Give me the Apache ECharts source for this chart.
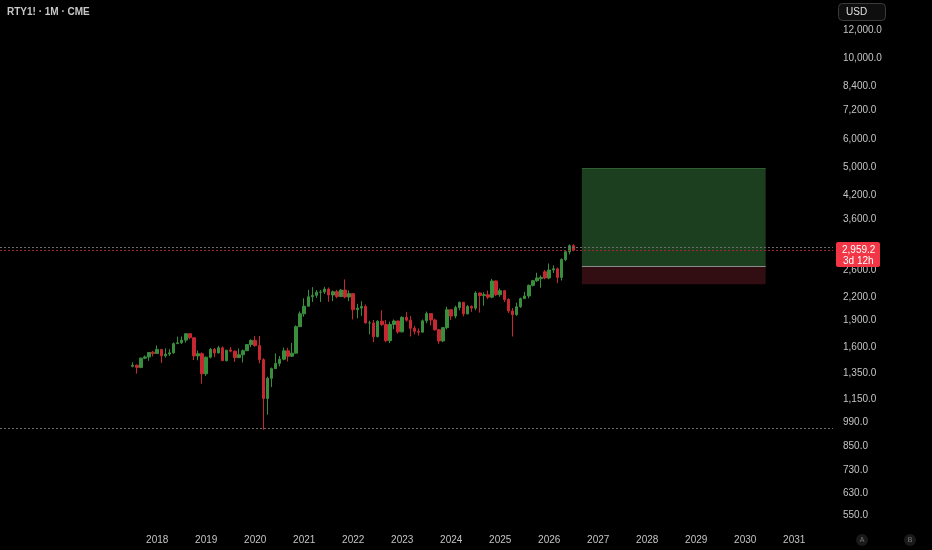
<!DOCTYPE html>
<html><head><meta charset="utf-8">
<script src="https://cdn.jsdelivr.net/npm/echarts@6/dist/echarts.min.js"></script>
<style>html,body{margin:0;padding:0;background:#000;}#c{width:932px;height:550px;}</style>
</head><body><div id="c"></div>
<script>
// ---- axis categories (monthly) ----
const axisFirstYear = 2014, axisFirstMonth = 11, axisMonthCount = 204;
// ---- tick labels ----
const xYearLabels = ['2018','2019','2020','2021','2022','2023','2024','2025','2026','2027','2028','2029','2030','2031'];
const yTicks = [550, 630, 730, 850, 990, 1150, 1350, 1600, 1900, 2200, 2600, 3000, 3600, 4200, 5000, 6000, 7200, 8400, 10000, 12000];
// ---- OHLC: [month, open, high, low, close] ----
const candles2017 = [
 ['2017-07',1415,1452,1405,1425],['2017-08',1425,1430,1350,1405],['2017-09',1405,1495,1398,1490],
 ['2017-10',1490,1515,1480,1502],['2017-11',1502,1548,1465,1544],['2017-12',1548,1560,1506,1535]];
const candles2018 = [
 ['2018-01',1535,1616,1530,1575],['2018-02',1575,1580,1445,1512],['2018-03',1512,1586,1495,1529],
 ['2018-04',1529,1578,1511,1541],['2018-05',1541,1647,1530,1634],['2018-06',1634,1708,1630,1643],
 ['2018-07',1643,1710,1630,1671],['2018-08',1671,1742,1645,1741],['2018-09',1741,1745,1680,1696],
 ['2018-10',1696,1700,1473,1511],['2018-11',1511,1563,1470,1533],['2018-12',1533,1545,1267,1349]];
const candles2019 = [
 ['2019-01',1349,1505,1330,1499],['2019-02',1499,1590,1488,1576],['2019-03',1576,1590,1500,1540],
 ['2019-04',1540,1610,1536,1591],['2019-05',1591,1605,1464,1466],['2019-06',1466,1570,1460,1567],
 ['2019-07',1570,1600,1545,1558],['2019-08',1558,1565,1455,1495],['2019-09',1495,1585,1490,1523],
 ['2019-10',1523,1575,1450,1562],['2019-11',1562,1625,1560,1624],['2019-12',1624,1680,1598,1668]];
const candles2020 = [
 ['2020-01',1668,1715,1601,1614],['2020-02',1614,1716,1441,1476],['2020-03',1476,1490,945,1153],
 ['2020-04',1153,1325,1040,1311],['2020-05',1311,1404,1240,1394],['2020-06',1394,1536,1391,1441],
 ['2020-07',1441,1510,1415,1480],['2020-08',1480,1594,1470,1561],['2020-09',1561,1591,1459,1508],
 ['2020-10',1508,1642,1501,1538],['2020-11',1538,1835,1536,1820],['2020-12',1820,2005,1816,1975]];
const candles2021 = [
 ['2021-01',1975,2180,1940,2073],['2021-02',2073,2300,2070,2201],['2021-03',2201,2340,2130,2221],
 ['2021-04',2221,2296,2185,2266],['2021-05',2266,2300,2130,2269],['2021-06',2269,2345,2240,2311],
 ['2021-07',2311,2336,2131,2226],['2021-08',2226,2290,2140,2273],['2021-09',2273,2300,2180,2204],
 ['2021-10',2204,2310,2200,2297],['2021-11',2297,2459,2180,2198],['2021-12',2198,2290,2140,2245]];
const candles2022 = [
 ['2022-01',2245,2250,1906,2028],['2022-02',2028,2105,1920,2048],['2022-03',2048,2140,1950,2070],
 ['2022-04',2070,2095,1858,1864],['2022-05',1864,1890,1734,1864],['2022-06',1864,1900,1650,1708],
 ['2022-07',1708,1895,1700,1885],['2022-08',1885,2021,1830,1844],['2022-09',1844,1900,1650,1665],
 ['2022-10',1665,1880,1640,1846],['2022-11',1846,1905,1790,1887],['2022-12',1887,1890,1740,1761]];
const candles2023 = [
 ['2023-01',1761,1945,1755,1931],['2023-02',1931,2000,1880,1897],['2023-03',1897,1950,1710,1802],
 ['2023-04',1802,1830,1733,1768],['2023-05',1768,1800,1720,1758],['2023-06',1758,1905,1755,1889],
 ['2023-07',1889,2003,1860,1978],['2023-08',1978,1980,1835,1899],['2023-09',1899,1915,1775,1785],
 ['2023-10',1785,1795,1633,1662],['2023-11',1662,1815,1650,1809],['2023-12',1809,2067,1790,2027]];
const candles2024 = [
 ['2024-01',2027,2030,1900,1947],['2024-02',1947,2080,1920,2055],['2024-03',2055,2135,2020,2125],
 ['2024-04',2125,2130,1943,1974],['2024-05',1974,2090,1970,2070],['2024-06',2070,2085,2000,2048],
 ['2024-07',2048,2280,2020,2255],['2024-08',2255,2260,1990,2218],['2024-09',2218,2265,2080,2230],
 ['2024-10',2230,2290,2170,2196],['2024-11',2196,2466,2180,2434],['2024-12',2434,2440,2210,2230]];
const candles2025 = [
 ['2025-01',2230,2320,2200,2288],['2025-02',2288,2300,2130,2163],['2025-03',2163,2180,1985,2011],
 ['2025-04',2011,2050,1710,1964],['2025-05',1964,2120,1950,2066],['2025-06',2066,2190,2050,2175],
 ['2025-07',2175,2270,2170,2212],['2025-08',2212,2380,2180,2367],['2025-09',2367,2450,2350,2437],
 ['2025-10',2437,2565,2420,2480],['2025-11',2470,2520,2330,2490],['2025-12',2580,2610,2460,2480]];
const candles2026 = [
 ['2026-01',2480,2720,2460,2610],['2026-02',2610,2690,2560,2630],['2026-03',2630,2650,2400,2490],
 ['2026-04',2490,2810,2440,2790],['2026-05',2790,2960,2760,2930],['2026-06',2930,3070,2880,3046],
 ['2026-07',3046,3075,2940,2959.2]];
// ---- price levels ----
const lastPrice = 2959.2;
const prevClose = 3046;
const crashLow = 945;
// ---- long position tool ----
const positionFrom = '2026-09', positionTo = '2030-06';
const positionTarget = 4975, positionEntry = 2670, positionStop = 2385;

const L = v => Math.log10(v);
const months = [];
for (let i = 0; i < axisMonthCount; i++) {
  const k = axisFirstMonth - 1 + i;
  months.push((axisFirstYear + Math.floor(k / 12)) + '-' + String(k % 12 + 1).padStart(2, '0'));
}
const allCandles = [].concat(candles2017, candles2018, candles2019, candles2020, candles2021,
  candles2022, candles2023, candles2024, candles2025, candles2026);
const seriesData = allCandles.map(r => [r[0], L(r[1]), L(r[4]), L(r[3]), L(r[2])]);

function fmt(v) {
  const n = Math.round(Math.pow(10, v));
  return String(n).replace(/\B(?=(\d{3})+(?!\d))/g, ',') + '.0';
}
const FONT = '"Liberation Sans", Arial, sans-serif';
const txt = '#c4c4c4';
const up = '#388e3c', down = '#c62832';

const chart = echarts.init(document.getElementById('c'), null, {renderer: 'canvas'});
chart.setOption({
  backgroundColor: '#000000',
  animation: false,
  grid: {left: 0, right: 99, top: 0, bottom: 22},
  xAxis: {
    type: 'category', data: months, boundaryGap: true,
    axisLine: {show: false}, axisTick: {show: false}, splitLine: {show: false},
    axisLabel: {
      interval: (idx, val) => val.slice(5) === '01' && xYearLabels.indexOf(val.slice(0, 4)) >= 0,
      formatter: val => val.slice(0, 4),
      color: txt, fontSize: 10, fontFamily: FONT, margin: 7
    }
  },
  yAxis: {
    type: 'value', position: 'right', min: 2.70425, max: 4.16201,
    axisLine: {show: false}, axisTick: {show: false}, splitLine: {show: false},
    axisLabel: {
      customValues: yTicks.map(L), formatter: v => fmt(v),
      color: txt, fontSize: 10, fontFamily: FONT, margin: 10
    }
  },
  series: [{
    type: 'candlestick',
    data: seriesData,
    encode: {x: 0, y: [1, 2, 3, 4]},
    barWidth: 3,
    itemStyle: {color: up, color0: down, borderColor: up, borderColor0: down, borderWidth: 1},
    markArea: {
      silent: true,
      data: [
        [{coord: [positionFrom, L(positionTarget)], itemStyle: {color: '#1c3f1f'}}, {coord: [positionTo, L(positionEntry)]}],
        [{coord: [positionFrom, L(positionEntry)], itemStyle: {color: '#320e12'}}, {coord: [positionTo, L(positionStop)]}]
      ]
    },
    markLine: {
      silent: true, symbol: ['none', 'none'], label: {show: false},
      data: [
        {yAxis: L(crashLow), lineStyle: {color: '#6e6e6e', type: [2, 2], width: 1}},
        {yAxis: L(prevClose), lineStyle: {color: '#6e6e6e', type: [2, 2], width: 1}},
        {yAxis: L(lastPrice), lineStyle: {color: '#a3232f', type: [2, 2], width: 1}},
        [{coord: [positionFrom, L(positionTarget)], lineStyle: {color: '#2f5f33', type: 'solid', width: 1}}, {coord: [positionTo, L(positionTarget)]}],
        [{coord: [positionFrom, L(positionEntry)], lineStyle: {color: '#8c8c8c', type: 'solid', width: 1}}, {coord: [positionTo, L(positionEntry)]}]
      ]
    }
  }],
  graphic: [
    {type: 'text', left: 7, top: 7, style: {text: 'RTY1! · 1M · CME', fill: '#c8c8c8', font: 'bold 10px ' + FONT}},
    {type: 'rect', shape: {x: 838.5, y: 3.5, width: 47, height: 17, r: 4}, style: {fill: '#0e0e0e', stroke: '#3a3a3a', lineWidth: 1}},
    {type: 'text', x: 846, y: 12, style: {text: 'USD', fill: '#e0e0e0', font: '10px ' + FONT, verticalAlign: 'middle'}},
    {type: 'rect', z: 10, shape: {x: 836, y: 242, width: 44, height: 25, r: 2}, style: {fill: '#f23645'}},
    {type: 'text', z: 11, x: 842, y: 250, style: {text: '2,959.2', fill: '#ffffff', font: '10px ' + FONT, verticalAlign: 'middle'}},
    {type: 'text', z: 11, x: 843, y: 261.5, style: {text: '3d 12h', fill: '#ffffff', font: '10px ' + FONT, verticalAlign: 'middle'}},
    {type: 'circle', shape: {cx: 862, cy: 540, r: 6}, style: {fill: '#1a1a1a'}},
    {type: 'text', x: 862, y: 540, style: {text: 'A', fill: '#777', font: '7px ' + FONT, align: 'center', verticalAlign: 'middle'}},
    {type: 'circle', shape: {cx: 910, cy: 540, r: 6}, style: {fill: '#1a1a1a'}},
    {type: 'text', x: 910, y: 540, style: {text: 'B', fill: '#777', font: '7px ' + FONT, align: 'center', verticalAlign: 'middle'}}
  ]
});
</script></body></html>
